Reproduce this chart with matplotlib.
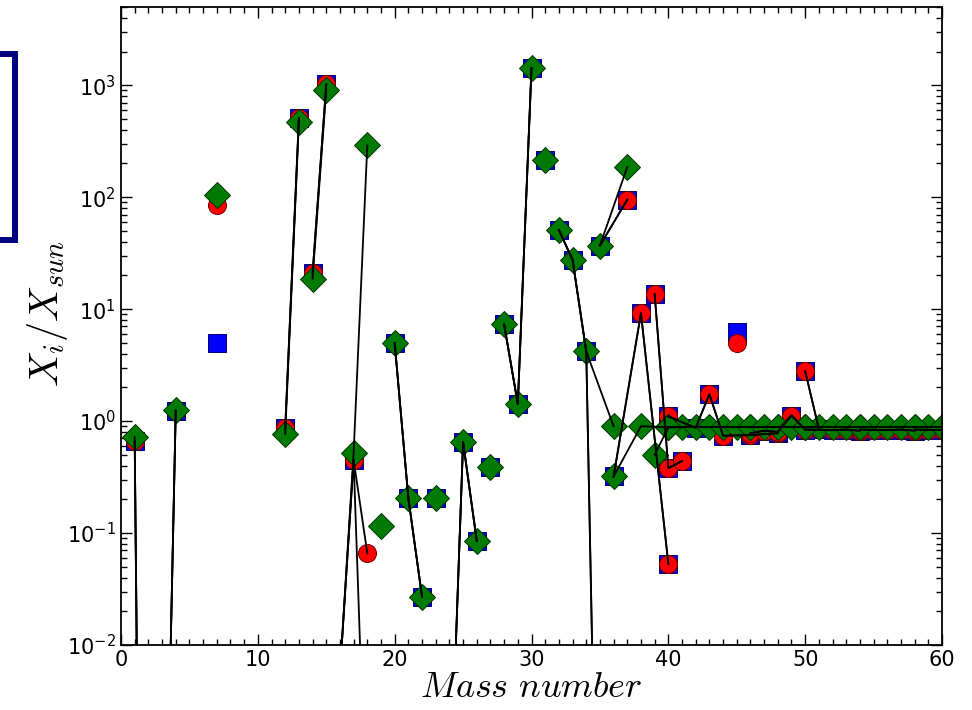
import numpy as np
import matplotlib
matplotlib.use('Agg')
import matplotlib.pyplot as plt
from matplotlib.patches import Rectangle
from matplotlib.ticker import MultipleLocator, LogLocator

nan = np.nan

# isotopes: element symbol and mass number
elem = ['H', 'H', 'He', 'He', 'Li', 'Li', 'C', 'C', 'N', 'N', 'O', 'O', 'O', 'F',
        'Ne', 'Ne', 'Ne', 'Na', 'Mg', 'Mg', 'Mg', 'Al', 'Si', 'Si', 'Si', 'P',
        'S', 'S', 'S', 'S', 'Cl', 'Cl', 'Ar', 'Ar', 'Ar', 'K', 'K', 'K',
        'Ca', 'Ca', 'Ca', 'Ca', 'Ca', 'Ca', 'Sc', 'Ti', 'Ti', 'Ti', 'Ti', 'Ti',
        'V', 'V', 'Cr', 'Cr', 'Cr', 'Cr', 'Mn', 'Fe', 'Fe', 'Fe', 'Fe', 'Co',
        'Ni', 'Ni', 'Ni', 'Ni', 'Ni']
mass = [1, 2, 3, 4, 6, 7, 12, 13, 14, 15, 16, 17, 18, 19,
        20, 21, 22, 23, 24, 25, 26, 27, 28, 29, 30, 31,
        32, 33, 34, 36, 35, 37, 36, 38, 40, 39, 40, 41,
        40, 42, 43, 44, 46, 48, 45, 46, 47, 48, 49, 50,
        50, 51, 50, 52, 53, 54, 55, 54, 56, 57, 58, 59,
        58, 60, 61, 62, 64]

# X_i / X_sun for the three models
blue = [0.66, 3e-13, 2.5e-6, 1.23, nan, 5.0, 0.87, 505, 21, 1017, 5.6e-3, 0.45, 1.4e-4, nan,
        5.0, 0.205, 0.027, 0.205, 2.5e-4, 0.65, 0.085, 0.39, 7.3, 1.42, 1420, 215,
        51, 27.6, 4.2, 2.5e-12, 37, 95, 0.32, 9.2, 0.053, 13.6, 0.38, 0.44,
        1.1, 0.87, 1.74, 0.74, 0.75, 0.78, 6.2, 0.78, 0.82, 0.8, 1.12, 0.84,
        2.8, 0.85, 0.84, 0.83, 0.84, 0.82, 0.83, 0.84, 0.83, 0.84, 0.82, 0.83,
        0.84, 0.83, 0.82, 0.84, 0.83]
red = [0.66, 3e-13, 2.5e-6, 1.23, nan, 85, 0.87, 505, 21, 1017, 5.6e-3, 0.45, 0.066, nan,
       5.0, 0.205, 0.027, 0.205, 2.5e-4, 0.65, 0.085, 0.39, 7.3, 1.42, 1420, 215,
       51, 27.6, 4.2, 2.5e-12, 37, 95, 0.32, 9.2, 0.053, 13.6, 0.38, 0.44,
       1.1, 0.87, 1.74, 0.74, 0.75, 0.78, 5.0, 0.78, 0.82, 0.8, 1.12, 0.84,
       2.8, 0.85, 0.84, 0.83, 0.84, 0.82, 0.83, 0.84, 0.83, 0.84, 0.82, 0.83,
       0.84, 0.83, 0.82, 0.84, 0.83]
green = [0.72, 3e-13, 2.5e-6, 1.26, nan, 105, 0.77, 465, 18.7, 916, 5.6e-3, 0.52, 290, 0.115,
         5.0, 0.205, 0.027, 0.205, 2.5e-4, 0.65, 0.085, 0.39, 7.3, 1.42, 1420, 215,
         51, 27.6, 4.2, 0.9, 37, 186, 0.32, 0.9, 0.88, 0.5, 0.88, 0.88,
         0.88, 0.88, 0.88, 0.88, 0.88, 0.88, 0.88, 0.88, 0.88, 0.88, 0.88, 0.88,
         0.88, 0.88, 0.88, 0.88, 0.88, 0.88, 0.88, 0.88, 0.88, 0.88, 0.88, 0.88,
         0.88, 0.88, 0.88, 0.88, 0.88]

plt.rcParams['mathtext.fontset'] = 'cm'
plt.rcParams['xtick.direction'] = 'in'
plt.rcParams['ytick.direction'] = 'in'

fig = plt.figure(figsize=(9.72, 7.10), dpi=100)
ax = fig.add_axes([121/972, 65/710, 821/972, 638/710])

mass_a = np.array(mass)
ax.plot(mass_a, blue, 's', color='#0000ff', mec='#000070', mew=0.7, ms=13, zorder=2)
ax.plot(mass_a, red, 'o', color='#ff0000', mec='#700000', mew=0.7, ms=13, zorder=2.1)
ax.plot(mass_a, green, 'D', color='#007a00', mec='#003300', mew=0.7, ms=13, zorder=2.2)

# black lines joining isotopes of the same element, for each model
for vals in (blue, red, green):
    v = np.array(vals, dtype=float)
    start = 0
    for i in range(1, len(elem) + 1):
        if i == len(elem) or elem[i] != elem[start]:
            if i - start > 1:
                ax.plot(mass_a[start:i], v[start:i], '-', color='k', lw=1.3, zorder=3)
            start = i

ax.set_yscale('log')
ax.set_xlim(0, 60)
ax.set_ylim(1e-2, 5e3)
ax.xaxis.set_major_locator(MultipleLocator(10))
ax.xaxis.set_minor_locator(MultipleLocator(1))
ax.yaxis.set_minor_locator(LogLocator(base=10, subs=np.arange(2, 10)))
ax.tick_params(which='both', top=True, right=True, labelsize=15, width=1)
ax.tick_params(which='major', length=8)
ax.tick_params(which='minor', length=4)
for s in ax.spines.values():
    s.set_linewidth(1.3)

ax.set_xlabel(r'$Mass\ number$', fontsize=26, labelpad=0)
ax.set_ylabel(r'$X_i/X_{sun}$', fontsize=29, labelpad=2)
ax.yaxis.set_label_coords(-0.062, 0.52)

# partly visible legend frame at the left edge
fig.patches.append(Rectangle((-0.2, (710 - 240) / 710), 0.2 + 15 / 972, 186 / 710,
                             transform=fig.transFigure, fill=False,
                             edgecolor='#000080', lw=4.3))

fig.savefig('out.png', dpi=100)
